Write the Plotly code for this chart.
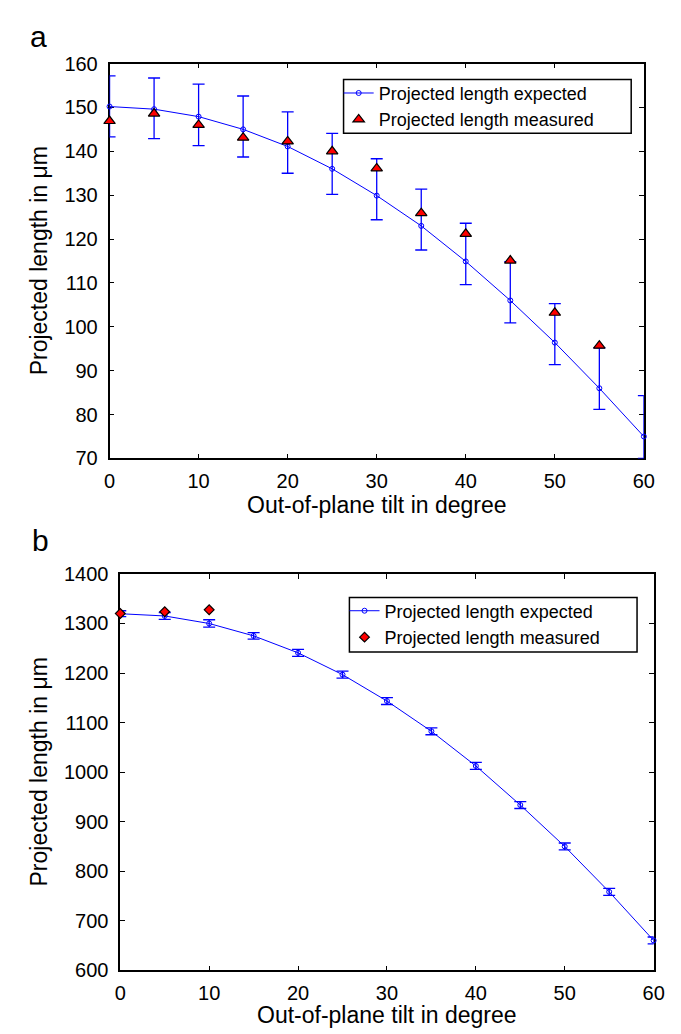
import plotly.graph_objects as go

# ---------------- data ----------------
tilt = [0, 5, 10, 15, 20, 25, 30, 35, 40, 45, 50, 55, 60]

a_expected = [150.2, 149.6, 147.9, 145.0, 141.1, 136.0, 129.9, 123.0, 114.9, 106.0, 96.4, 86.0, 75.0]
a_err_plus = [7.0, 7.1, 7.4, 7.6, 7.9, 8.1, 8.4, 8.4, 8.7, 8.85, 8.9, 9.2, 9.3]
a_err_minus = [6.9, 6.7, 6.6, 6.3, 6.1, 5.8, 5.5, 5.5, 5.3, 5.1, 5.0, 4.8, 5.0]
a_meas_tilt = [0, 5, 10, 15, 20, 25, 30, 35, 40, 45, 50, 55]
a_measured = [146.9, 148.6, 146.0, 143.1, 142.25, 140.0, 136.1, 125.9, 121.2, 115.1, 103.2, 95.7]

b_expected = [1319.7, 1315.2, 1300.0, 1275.0, 1240.8, 1196.8, 1143.5, 1082.4, 1012.5, 933.6, 850.0, 758.4, 660.3]
b_err = [6, 7, 7.5, 6.5, 7, 7, 7, 7, 7, 7, 7, 7, 7]
b_meas_tilt = [0, 5, 10]
b_measured = [1320.0, 1323.7, 1327.6]

x_ticks = [0, 10, 20, 30, 40, 50, 60]
a_y_ticks = [70, 80, 90, 100, 110, 120, 130, 140, 150, 160]
b_y_ticks = [600, 700, 800, 900, 1000, 1100, 1200, 1300, 1400]

label_expected = "Projected length expected"
label_measured = "Projected length measured"
x_title = "Out-of-plane tilt in degree"
y_title = "Projected length in μm"

# ---------------- layout geometry ----------------
W, H = 681, 1034
FONT = "Liberation Sans, Arial, Helvetica, sans-serif"
BLUE = "#0000FF"


def px_x(p):
    return p / W


def px_y(p):
    return 1 - p / H


fig = go.Figure()

# panel a
fig.add_trace(go.Scatter(
    x=tilt, y=a_expected, mode="lines+markers", name=label_expected,
    line=dict(color=BLUE, width=1),
    marker=dict(symbol="circle-open", size=5, color=BLUE, line=dict(width=1, color=BLUE)),
    error_y=dict(type="data", symmetric=False, array=a_err_plus, arrayminus=a_err_minus,
                 color=BLUE, thickness=1.3, width=6),
    cliponaxis=False, xaxis="x", yaxis="y", legend="legend",
))
fig.add_trace(go.Scatter(
    x=a_meas_tilt, y=a_measured, mode="markers", name=label_measured,
    marker=dict(symbol="triangle-up", size=10, color="#FF0000", line=dict(width=1.2, color="black")),
    cliponaxis=False, xaxis="x", yaxis="y", legend="legend",
))

# panel b
fig.add_trace(go.Scatter(
    x=tilt, y=b_expected, mode="lines+markers", name=label_expected,
    line=dict(color=BLUE, width=1),
    marker=dict(symbol="circle-open", size=5, color=BLUE, line=dict(width=1, color=BLUE)),
    error_y=dict(type="data", array=b_err, color=BLUE, thickness=1.3, width=6),
    cliponaxis=False, xaxis="x2", yaxis="y2", legend="legend2",
))
fig.add_trace(go.Scatter(
    x=b_meas_tilt, y=b_measured, mode="markers", name=label_measured,
    marker=dict(symbol="diamond", size=7.5, color="#FF0000", line=dict(width=1.2, color="black")),
    cliponaxis=False, xaxis="x2", yaxis="y2", legend="legend2",
))

axis_common = dict(
    showline=True, linecolor="black", linewidth=1.6, mirror="ticks",
    ticks="inside", ticklen=5, tickwidth=1, tickcolor="black",
    showgrid=False, zeroline=False, layer="below traces",
    tickfont=dict(family=FONT, size=20, color="black"),
    fixedrange=True,
)

legend_common = dict(
    xanchor="left", yanchor="top",
    borderwidth=0, bgcolor="rgba(0,0,0,0)",
    font=dict(family=FONT, size=18, color="black"),
    tracegroupgap=0, itemwidth=30,
)

# legend frames (drawn as shapes so their size matches the reference)
legend_boxes = [
    (338, 633, 61.7, 116.7),
    (344, 639, 591, 646.7),
]
shapes = [
    dict(type="rect", xref="paper", yref="paper",
         x0=px_x(x0), x1=px_x(x1), y0=px_y(y1), y1=px_y(y0),
         line=dict(color="black", width=1.5), fillcolor="white", layer="above")
    for (x0, x1, y0, y1) in legend_boxes
]

fig.update_layout(
    width=W, height=H,
    margin=dict(l=0, r=0, t=0, b=0),
    paper_bgcolor="white", plot_bgcolor="white",
    font=dict(family=FONT, color="black"),
    xaxis=dict(domain=[px_x(98), px_x(646)], range=[0, 60], tickvals=x_ticks,
               anchor="y", ticklabelstandoff=4, **axis_common),
    yaxis=dict(domain=[px_y(449), px_y(45.5)], range=[70, 160], tickvals=a_y_ticks,
               anchor="x", ticklabelstandoff=6, **axis_common),
    xaxis2=dict(domain=[px_x(109), px_x(656)], range=[0, 60], tickvals=x_ticks,
                anchor="y2", ticklabelstandoff=4, **axis_common),
    yaxis2=dict(domain=[px_y(972), px_y(567)], range=[600, 1400], tickvals=b_y_ticks,
                anchor="x2", ticklabelstandoff=6, **axis_common),
    legend=dict(x=px_x(333), y=px_y(57), **legend_common),
    legend2=dict(x=px_x(339), y=px_y(586), **legend_common),
    showlegend=True,
    shapes=shapes,
)

annos = [
    dict(text="a", x=px_x(14), y=px_y(18), xanchor="left", yanchor="middle", font=dict(size=30)),
    dict(text="b", x=px_x(16), y=px_y(533), xanchor="left", yanchor="middle", font=dict(size=30)),
    dict(text=x_title, x=px_x((98 + 646) / 2), y=px_y(497), xanchor="center", yanchor="middle", font=dict(size=23)),
    dict(text=x_title, x=px_x((109 + 656) / 2), y=px_y(1018), xanchor="center", yanchor="middle", font=dict(size=23)),
    dict(text=y_title, x=px_x(26), y=px_y((45.5 + 449) / 2), xanchor="center", yanchor="middle", textangle=-90, font=dict(size=23)),
    dict(text=y_title, x=px_x(26), y=px_y((567 + 972) / 2), xanchor="center", yanchor="middle", textangle=-90, font=dict(size=23)),
]
for a in annos:
    a.update(xref="paper", yref="paper", showarrow=False)
    a["font"] = dict(family=FONT, color="black", **a["font"])
fig.update_layout(annotations=annos)

fig.write_html("out.html")
